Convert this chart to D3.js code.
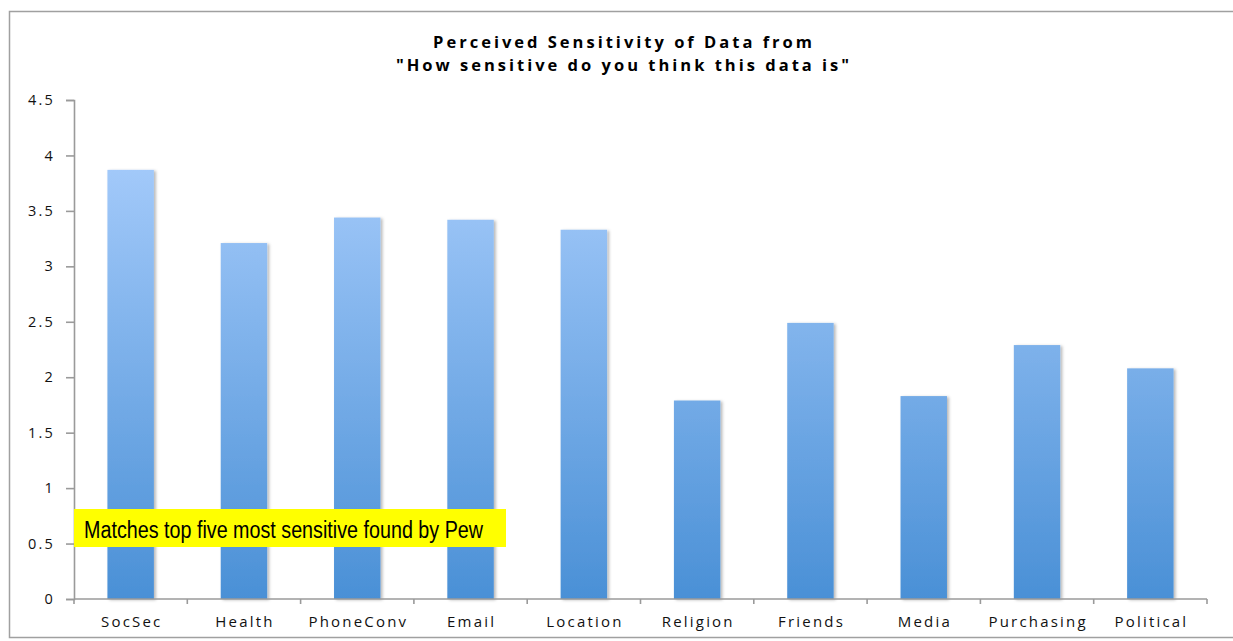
<!DOCTYPE html>
<html>
<head>
<meta charset="utf-8">
<script src="https://cdn.jsdelivr.net/npm/d3@7"></script>
<style>
  html, body { margin: 0; padding: 0; background: #fff; }
  svg { display: block; }
</style>
</head>
<body>
<svg id="chart" width="1233" height="641"></svg>
<script>
// Survey responses: mean perceived sensitivity per data type
const categories = ["SocSec", "Health", "PhoneConv", "Email", "Location",
                    "Religion", "Friends", "Media", "Purchasing", "Political"];
const sensitivity = [3.87, 3.21, 3.44, 3.42, 3.33, 1.79, 2.49, 1.83, 2.29, 2.08];
const yTicks = [0, 0.5, 1, 1.5, 2, 2.5, 3, 3.5, 4, 4.5];
const yTickLabels = ["0", "0.5", "1", "1.5", "2", "2.5", "3", "3.5", "4", "4.5"];
const titleLines = ["Perceived Sensitivity of Data from", "\"How sensitive do you think this data is\""];
const noteText = "Matches top five most sensitive found by Pew";

const svg = d3.select("#chart");
const margin = { left: 74, right: 1207, top: 100, bottom: 599 };
const font = "'Open Sans', 'DejaVu Sans', sans-serif";
const spacing = 2.2;

// Outer frame
svg.append("rect")
  .attr("x", 9.5).attr("y", 11.5)
  .attr("width", 1240).attr("height", 626)
  .attr("fill", "none").attr("stroke", "#a0a0a0").attr("stroke-width", 1.5);

const defs = svg.append("defs");
const grad = defs.append("linearGradient")
  .attr("id", "barGrad")
  .attr("gradientUnits", "userSpaceOnUse")
  .attr("x1", 0).attr("x2", 0)
  .attr("y1", margin.top).attr("y2", margin.bottom);
grad.append("stop").attr("offset", "0%").attr("stop-color", "#b0d2ff");
grad.append("stop").attr("offset", "100%").attr("stop-color", "#4a90d6");

const shadow = defs.append("filter").attr("id", "barShadow")
  .attr("x", "-20%").attr("y", "-5%").attr("width", "150%").attr("height", "115%");
shadow.append("feDropShadow")
  .attr("dx", 2).attr("dy", 1).attr("stdDeviation", 1.6)
  .attr("flood-color", "#000").attr("flood-opacity", 0.28);

const gridShadow = defs.append("filter").attr("id", "gridShadow")
  .attr("x", "0").attr("y", "-200%").attr("width", "100%").attr("height", "500%");
gridShadow.append("feDropShadow")
  .attr("dx", 0).attr("dy", 1).attr("stdDeviation", 0.6)
  .attr("flood-color", "#000").attr("flood-opacity", 0.25);

const x = d3.scaleBand()
  .domain(categories)
  .range([margin.left, margin.right])
  .paddingInner(0.59).paddingOuter(0.295);

const xTickScale = d3.scaleLinear()
  .domain([0, categories.length])
  .range([margin.left, margin.right]);

const y = d3.scaleLinear()
  .domain([0, 4.5])
  .range([margin.bottom, margin.top]);

// Horizontal gridlines
svg.append("g")
  .selectAll("line")
  .data(yTicks.filter(d => d > 0))
  .join("line")
  .attr("x1", margin.left).attr("x2", margin.right)
  .attr("y1", d => y(d)).attr("y2", d => y(d))
  .attr("stroke", "#9a9a9a").attr("stroke-width", 1.6)
  .attr("filter", "url(#gridShadow)");

// Y axis with labels
const yAxis = d3.axisLeft(y)
  .tickValues(yTicks)
  .tickFormat((d, i) => yTickLabels[i])
  .tickSize(8).tickPadding(11);
const gy = svg.append("g")
  .attr("transform", `translate(${margin.left},0)`)
  .call(yAxis);
gy.select(".domain").attr("stroke", "#9a9a9a").attr("stroke-width", 1.6);
gy.selectAll(".tick line").attr("stroke", "#9a9a9a").attr("stroke-width", 1.6);
gy.selectAll(".tick text")
  .attr("font-family", font).attr("font-size", 14.5).attr("fill", "#111")
  .attr("letter-spacing", spacing);

// Bars
svg.append("g")
  .selectAll("rect")
  .data(categories.map((c, i) => ({ c, v: sensitivity[i] })))
  .join("rect")
  .attr("x", d => x(d.c))
  .attr("y", d => y(d.v))
  .attr("width", x.bandwidth())
  .attr("height", d => y(0) - y(d.v))
  .attr("fill", "url(#barGrad)")
  .attr("filter", "url(#barShadow)");

// X axis: baseline, category separators, labels
svg.append("line")
  .attr("x1", margin.left).attr("x2", margin.right)
  .attr("y1", y(0)).attr("y2", y(0))
  .attr("stroke", "#9a9a9a").attr("stroke-width", 1.6);

svg.append("g")
  .selectAll("line")
  .data(d3.range(categories.length + 1))
  .join("line")
  .attr("x1", d => xTickScale(d)).attr("x2", d => xTickScale(d))
  .attr("y1", y(0)).attr("y2", y(0) + 5)
  .attr("stroke", "#9a9a9a").attr("stroke-width", 1.6);

svg.append("g")
  .selectAll("text")
  .data(categories)
  .join("text")
  .attr("x", d => x(d) + x.bandwidth() / 2 + spacing / 2)
  .attr("y", 627)
  .attr("text-anchor", "middle")
  .attr("font-family", font).attr("font-size", 15).attr("fill", "#111")
  .attr("letter-spacing", spacing)
  .text(d => d);

// Two-line title
svg.append("g")
  .selectAll("text")
  .data(titleLines)
  .join("text")
  .attr("x", 624)
  .attr("y", (d, i) => 48 + i * 22.5)
  .attr("text-anchor", "middle")
  .attr("font-family", font).attr("font-weight", "bold")
  .attr("font-size", 16.5).attr("fill", "#000")
  .attr("letter-spacing", 3)
  .text(d => d);

// Highlighted note
const note = svg.append("g");
note.append("rect")
  .attr("x", 74).attr("y", 509).attr("width", 432).attr("height", 38)
  .attr("fill", "#ffff00");
note.append("text")
  .attr("x", 84).attr("y", 538)
  .attr("font-family", "'Liberation Sans Narrow', 'Arial Narrow', 'Liberation Sans', Arial, sans-serif")
  .attr("font-size", 23.5).attr("fill", "#000")
  .attr("textLength", 399).attr("lengthAdjust", "spacingAndGlyphs")
  .text(noteText);
</script>
</body>
</html>
